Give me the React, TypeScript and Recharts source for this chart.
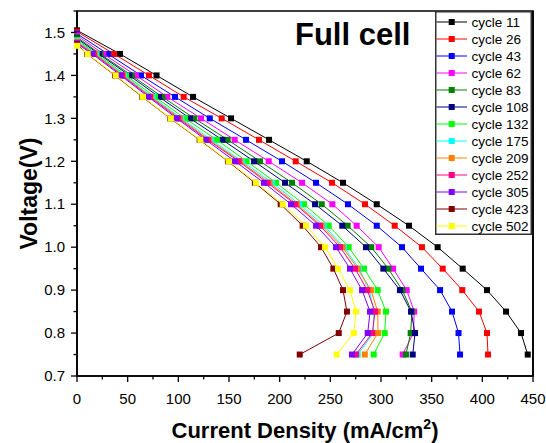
import React, { useLayoutEffect } from 'react';
import {
  ScatterChart,
  Scatter,
  XAxis,
  YAxis,
  ReferenceArea,
  Legend,
  Label,
} from 'recharts';

// Polarisation curves of the full cell at successive cycles.
const CYCLE_NAMES = [
  'cycle 11', 'cycle 26', 'cycle 43', 'cycle 62', 'cycle 83', 'cycle 108', 'cycle 132',
  'cycle 175', 'cycle 209', 'cycle 252', 'cycle 305', 'cycle 423', 'cycle 502',
];

const CYCLE_COLORS = [
  '#000000', '#FF0000', '#0000FF', '#FF00FF', '#008000', '#000080', '#00FF00',
  '#00FFFF', '#FF8000', '#FF0080', '#8000FF', '#800000', '#FFFF00',
];

// Open-circuit voltage (current density = 0) of each cycle, V
const OPEN_CIRCUIT_V = [
  1.505, 1.502, 1.497, 1.493, 1.489, 1.486, 1.483, 1.48, 1.478, 1.476, 1.474, 1.472, 1.469,
];

// Voltage steps of the discharge sweep, V
const VOLTAGE_STEPS = [
  1.45, 1.4, 1.35, 1.3, 1.25, 1.2, 1.15, 1.1, 1.05, 1.0, 0.95, 0.9, 0.85, 0.8, 0.75,
];

// Current density (mA/cm2) reached at each voltage step
const J_CYCLE_11 = [42.4, 78.5, 114.5, 152, 189.5, 226.7, 262.5, 295.8, 327.6, 355.9, 380.6, 404.6, 423.4, 438.2, 444.8];
const J_CYCLE_26 = [36.5, 71, 105.3, 142.8, 179.6, 215.8, 251.7, 284.2, 313.5, 340.4, 360.9, 380.2, 396.7, 404.6, 405.6];
const J_CYCLE_43 = [30.5, 63.1, 96.7, 131, 166.8, 202.3, 235.9, 267.4, 295.8, 320.7, 339.5, 358.3, 370.1, 376.5, 378];
const J_CYCLE_62 = [26, 58.2, 89.1, 122.4, 155.6, 189.2, 222.1, 252, 276, 297.7, 311.9, 325.4, 332.8, 332, 321.4];
const J_CYCLE_83 = [23, 53.9, 84.2, 115.8, 148.7, 180.6, 212.2, 241.5, 267.1, 290.4, 307.2, 321, 330.5, 329.3, 324.6];
const J_CYCLE_108 = [21.5, 51.6, 80.9, 111.5, 143.4, 174.7, 205.3, 234.9, 261.8, 285.2, 302.3, 318.7, 329.6, 333.6, 331.3];
const J_CYCLE_132 = [19.5, 48.4, 76.9, 106.6, 137.9, 167.4, 196.4, 224, 248.4, 268.1, 283.2, 296.7, 304.9, 303.6, 292.8];
const J_CYCLE_175 = [18.5, 46.5, 74.5, 103, 132.5, 163, 192.5, 219.4, 243.8, 263.5, 278.5, 288.5, 293, 292.5, 277];
const J_CYCLE_209 = [17.5, 45.5, 73, 101.5, 130.5, 161, 190, 217, 241.5, 262, 277, 290.1, 296.8, 297, 284];
const J_CYCLE_252 = [16.5, 44.5, 72, 100, 129, 159.6, 188, 215.5, 239.8, 259.6, 274.4, 286.5, 294.1, 291.4, 275.3];
const J_CYCLE_305 = [15, 43.1, 70.4, 98.4, 127, 155.9, 184.5, 211.2, 235.9, 255.6, 269.4, 281.3, 289.2, 286.9, 271.4];
const J_CYCLE_423 = [10, 37.5, 64.5, 92, 121, 149, 175.5, 201, 222.7, 240.8, 253, 262.5, 266.4, 258.3, 219.8];
const J_CYCLE_502 = [10.5, 38.2, 65.1, 92.5, 121.7, 149.7, 176.6, 203, 226, 244.7, 257.6, 269.4, 275.3, 273.1, 256.2];

const CURRENTS = [
  J_CYCLE_11, J_CYCLE_26, J_CYCLE_43, J_CYCLE_62, J_CYCLE_83, J_CYCLE_108, J_CYCLE_132,
  J_CYCLE_175, J_CYCLE_209, J_CYCLE_252, J_CYCLE_305, J_CYCLE_423, J_CYCLE_502,
];

// Axis ticks
const X_MAJOR = [0, 50, 100, 150, 200, 250, 300, 350, 400, 450];
const X_MINOR = [25, 75, 125, 175, 225, 275, 325, 375, 425];
const Y_MAJOR = [0.7, 0.8, 0.9, 1.0, 1.1, 1.2, 1.3, 1.4, 1.5];
const Y_MINOR = [0.75, 0.85, 0.95, 1.05, 1.15, 1.25, 1.35, 1.45, 1.55];

const X_DOMAIN = [0, 450];
const Y_DOMAIN = [0.7, 1.55];

const CHART_W = 546;
const CHART_H = 443;
const MARGIN = { top: 11, right: 13, bottom: 7, left: 17 };
const X_AXIS_H = 60;

const FONT = "Arial, 'Liberation Sans', Helvetica, sans-serif";
const AXIS_STROKE = 1.6;

const seriesData = CURRENTS.map((js, k) => [
  { j: 0, v: OPEN_CIRCUIT_V[k] },
  ...js.map((j, n) => ({ j, v: VOLTAGE_STEPS[n] })),
]);

const squareShape = (color: string) => (props: any) => {
  const { cx, cy } = props;
  if (cx == null || cy == null) return <g />;
  return <rect x={cx - 3} y={cy - 3} width={6} height={6} fill={color} />;
};

const XTick = (props: any) => {
  const { x, y, payload } = props;
  const major = X_MAJOR.includes(payload.value);
  return (
    <g>
      <line x1={x} x2={x} y1={y} y2={y + (major ? 6 : 3.5)} stroke="#000" strokeWidth={1.3} />
      {major && (
        <text x={x} y={y + 27.5} textAnchor="middle" fontSize={15} fontFamily={FONT} fill="#000">
          {payload.value}
        </text>
      )}
    </g>
  );
};

const YTick = (props: any) => {
  const { x, y, payload } = props;
  const major = Y_MAJOR.some((m) => Math.abs(m - payload.value) < 1e-6);
  return (
    <g>
      <line x1={x} x2={x - (major ? 6 : 3.5)} y1={y} y2={y} stroke="#000" strokeWidth={1.3} />
      {major && (
        <text x={x - 12} y={y} dy="0.35em" textAnchor="end" fontSize={15} fontFamily={FONT} fill="#000">
          {Number(payload.value).toFixed(1)}
        </text>
      )}
    </g>
  );
};

const XTitle = (props: any) => {
  const vb = props.viewBox || { x: 77, y: 376, width: 456, height: 60 };
  const cx = vb.x + vb.width / 2;
  return (
    <text x={cx} y={vb.y + 62} textAnchor="middle" fontSize={22} fontWeight="bold" fontFamily={FONT} fill="#000">
      Current Density (mA/cm
      <tspan fontSize={14} dy={-9}>2</tspan>
      <tspan dy={9}>)</tspan>
    </text>
  );
};

const YTitle = (props: any) => {
  const vb = props.viewBox || { x: 17, y: 11, width: 60, height: 365 };
  const tx = vb.x + vb.width - 40;
  const ty = vb.y + vb.height / 2;
  return (
    <text
      x={tx}
      y={ty}
      textAnchor="middle"
      fontSize={23}
      fontWeight="bold"
      fontFamily={FONT}
      fill="#000"
      transform={`rotate(-90, ${tx}, ${ty})`}
    >
      Voltage(V)
    </text>
  );
};

const LegendBox = () => {
  const rowH = 17;
  const w = 97;
  const h = 224;
  return (
    <svg width={w} height={h} style={{ display: 'block', background: '#fff' }}>
      <rect x={0.75} y={0.75} width={w - 1.5} height={h - 1.5} fill="#fff" stroke="#333" strokeWidth={1.5} />
      {CYCLE_NAMES.map((name, k) => {
        const y = 11 + k * rowH;
        return (
          <g key={name}>
            <line x1={1.5} x2={32} y1={y} y2={y} stroke={CYCLE_COLORS[k]} strokeWidth={1} />
            <rect x={16.7 - 3} y={y - 3} width={6} height={6} fill={CYCLE_COLORS[k]} />
            <text x={36.5} y={y} dy="0.36em" fontSize={13.5} fontFamily={FONT} fill="#000">
              {name}
            </text>
          </g>
        );
      })}
    </svg>
  );
};

export default function App() {
  // the figure fills the whole window; keep the page from scrolling
  useLayoutEffect(() => {
    document.documentElement.style.overflow = 'hidden';
    document.body.style.overflow = 'hidden';
    document.body.style.margin = '0';
  }, []);

  const plotRight = CHART_W - MARGIN.right;
  const plotBottom = CHART_H - MARGIN.bottom - X_AXIS_H;

  return (
    <div
      style={{
        position: 'fixed',
        left: 0,
        top: 0,
        width: CHART_W,
        height: CHART_H,
        overflow: 'hidden',
        background: '#fff',
      }}
    >
      <ScatterChart width={CHART_W} height={CHART_H} margin={MARGIN} style={{ display: 'block' }}>
        <XAxis
          type="number"
          dataKey="j"
          domain={X_DOMAIN}
          ticks={[...X_MAJOR, ...X_MINOR].sort((a, b) => a - b)}
          interval={0}
          height={X_AXIS_H}
          tickSize={0}
          tickMargin={0}
          tickLine={false}
          tick={<XTick />}
          axisLine={{ stroke: '#000', strokeWidth: AXIS_STROKE }}
        >
          <Label content={<XTitle />} />
        </XAxis>
        <YAxis
          type="number"
          dataKey="v"
          domain={Y_DOMAIN}
          ticks={[...Y_MAJOR, ...Y_MINOR].sort((a, b) => a - b)}
          interval={0}
          width={60}
          tickSize={0}
          tickMargin={0}
          tickLine={false}
          tick={<YTick />}
          axisLine={{ stroke: '#000', strokeWidth: AXIS_STROKE }}
        >
          <Label content={<YTitle />} />
        </YAxis>
        {/* plot frame */}
        <ReferenceArea
          x1={X_DOMAIN[0]}
          x2={X_DOMAIN[1]}
          y1={Y_DOMAIN[0]}
          y2={Y_DOMAIN[1]}
          fill="none"
          fillOpacity={0}
          stroke="#000"
          strokeWidth={AXIS_STROKE}
          strokeOpacity={1}
          ifOverflow="visible"
        />
        {seriesData.map((data, k) => (
          <Scatter
            key={CYCLE_NAMES[k]}
            name={CYCLE_NAMES[k]}
            data={data}
            fill={CYCLE_COLORS[k]}
            line={{ stroke: CYCLE_COLORS[k], strokeWidth: 1 }}
            lineType="joint"
            shape={squareShape(CYCLE_COLORS[k])}
            isAnimationActive={false}
          />
        ))}
        <Legend
          layout="vertical"
          align="center"
          verticalAlign="middle"
          content={<LegendBox />}
          wrapperStyle={{ position: 'absolute', left: 435, top: 10.5, width: 97, height: 224, margin: 0 }}
        />
      </ScatterChart>
      <svg
        width={CHART_W}
        height={CHART_H}
        style={{ position: 'absolute', left: 0, top: 0, pointerEvents: 'none', display: 'block' }}
      >
        {/* right-hand edge of the frame, drawn over the legend border */}
        <line
          x1={plotRight}
          x2={plotRight}
          y1={MARGIN.top}
          y2={plotBottom}
          stroke="#000"
          strokeWidth={AXIS_STROKE}
        />
        <text x={295} y={45} fontSize={31} fontWeight="bold" fontFamily={FONT} fill="#000">
          Full cell
        </text>
      </svg>
    </div>
  );
}
